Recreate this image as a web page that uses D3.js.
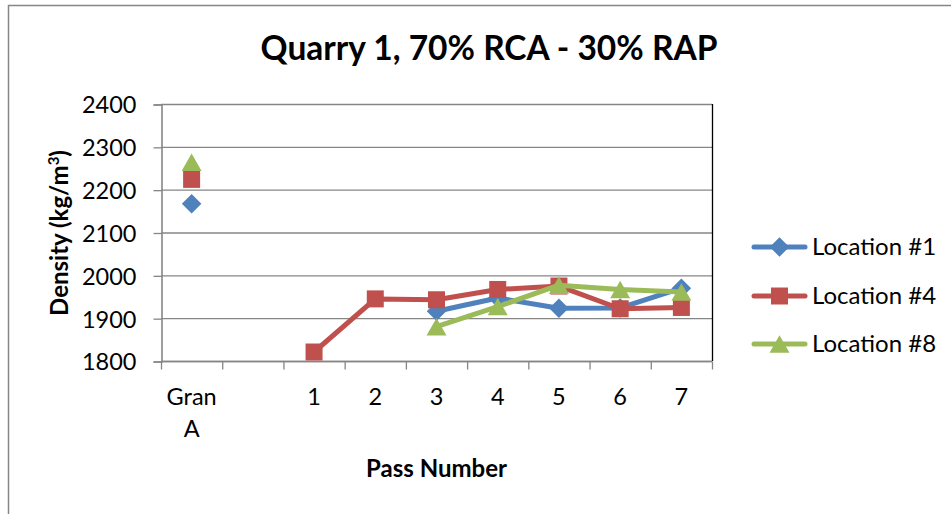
<!DOCTYPE html>
<html><head><meta charset="utf-8">
<script src="https://cdn.jsdelivr.net/npm/d3@7"></script>
<style>body{margin:0;background:#fff;} text{font-family:Lato,"Open Sans",sans-serif;}</style>
</head><body>
<svg id="c" width="951" height="514"></svg>
<script>
const categories = ["Gran A", "", "1", "2", "3", "4", "5", "6", "7"];
const loc1 = [2167, null, null, null, 1916, 1947, 1923, 1924, 1970];
const loc4 = [2224, null, 1821, 1945, 1943, 1967, 1975, 1922, 1925];
const loc8 = [2264, null, null, null, 1880, 1927, 1977, 1967, 1961];
const seriesNames = ["Location #1", "Location #4", "Location #8"];
const yTicks = [1800, 1900, 2000, 2100, 2200, 2300, 2400];

const colors = ["#4F81BD", "#C0504D", "#9BBB59"];
// custom marker shapes (bbox-centred)
const diamond = { draw(ctx, size) { const r = Math.sqrt(size) / 2; ctx.moveTo(0, -r); ctx.lineTo(r, 0); ctx.lineTo(0, r); ctx.lineTo(-r, 0); ctx.closePath(); } };
const square = { draw(ctx, size) { const r = Math.sqrt(size) / 2; ctx.rect(-r, -r, 2 * r, 2 * r); } };
const triangle = { draw(ctx, size) { const w = Math.sqrt(size); const h = w * 0.87; ctx.moveTo(0, -h / 2); ctx.lineTo(w / 2, h / 2); ctx.lineTo(-w / 2, h / 2); ctx.closePath(); } };
const shapes = [diamond, square, triangle];
const sizes = [19.5 * 19.5, 17 * 17, 20 * 20];
const series = [loc1, loc4, loc8];

const svg = d3.select("#c");
svg.append("rect").attr("x", 8.5).attr("y", 5.5).attr("width", 1000).attr("height", 600)
  .attr("fill", "#fff").attr("stroke", "#868686").attr("stroke-width", 1.5);

const L = 161, R = 712, T = 104, B = 361;
const x = d3.scaleBand().domain(categories.map((c, i) => i)).range([L, R]);
const y = d3.scaleLinear().domain([1800, 2400]).range([B, T]);
const cx = i => x(i) + x.bandwidth() / 2;

// gridlines
svg.append("g").selectAll("line").data(yTicks).join("line")
  .attr("x1", L).attr("x2", R).attr("y1", d => y(d) + 0.5).attr("y2", d => y(d) + 0.5)
  .attr("stroke", "#868686").attr("stroke-width", 1.3);
// right border of plot
svg.append("line").attr("x1", R + 0.5).attr("x2", R + 0.5).attr("y1", T).attr("y2", B)
  .attr("stroke", "#000").attr("stroke-width", 1.3);

// y axis
const ya = svg.append("g").attr("transform", `translate(${L + 0.5},0.5)`)
  .call(d3.axisLeft(y).tickValues(yTicks).tickSize(8).tickPadding(17).tickFormat(d3.format("d")));
ya.select(".domain").attr("stroke", "#868686").attr("stroke-width", 1.6);
ya.selectAll(".tick line").attr("stroke", "#868686").attr("stroke-width", 1.3);
ya.selectAll("text").attr("font-size", 23.5).attr("fill", "#000").attr("font-family", "Lato").attr("dy", "0.36em");

// x axis
const xa = svg.append("g").attr("transform", `translate(0,${B + 0.5})`);
xa.append("line").attr("x1", L).attr("x2", R).attr("stroke", "#868686").attr("stroke-width", 1.6);
const bounds = d3.range(categories.length + 1).map(i => L + i * x.step());
xa.selectAll(".tk").data(bounds).join("line").attr("class", "tk")
  .attr("x1", d => d + 0.5).attr("x2", d => d + 0.5).attr("y1", 0).attr("y2", 8)
  .attr("stroke", "#868686").attr("stroke-width", 1.3);
categories.forEach((c, i) => {
  const words = c.split(" ");
  const t = xa.append("text").attr("text-anchor", "middle").attr("font-size", 23.5).attr("fill", "#000")
    .attr("x", cx(i)).attr("y", 404 - B);
  words.forEach((w, j) => t.append("tspan").attr("x", cx(i)).attr("dy", j ? 32 : 0).text(w));
});

// lines and markers
series.forEach((s, k) => {
  const pts = s.map((v, i) => ({ i, v }));
  const line = d3.line().defined(d => d.v != null).x(d => cx(d.i)).y(d => y(d.v));
  svg.append("path").datum(pts).attr("d", line).attr("fill", "none")
    .attr("stroke", colors[k]).attr("stroke-width", 5).attr("stroke-linejoin", "round").attr("stroke-linecap", "round");
  svg.append("g").selectAll("path").data(pts.filter(d => d.v != null)).join("path")
    .attr("transform", d => `translate(${cx(d.i)},${y(d.v)})`)
    .attr("d", d3.symbol().type(shapes[k]).size(sizes[k])).attr("fill", colors[k]);
});

// title
svg.append("text").attr("x", 489).attr("y", 60).attr("text-anchor", "middle")
  .attr("font-size", 33.5).attr("font-weight", "bold").attr("fill", "#000").text("Quarry 1, 70% RCA - 30% RAP");
// axis titles
svg.append("text").attr("x", 436.5).attr("y", 477).attr("text-anchor", "middle")
  .attr("font-size", 24).attr("font-weight", "bold").attr("fill", "#000").text("Pass Number");
const yt = svg.append("text").attr("transform", "translate(68,233) rotate(-90)").attr("text-anchor", "middle")
  .attr("font-size", 24).attr("font-weight", "bold").attr("fill", "#000");
yt.append("tspan").text("Density (kg/m");
yt.append("tspan").attr("font-size", 15).attr("dy", -9).text("3");
yt.append("tspan").attr("dy", 9).text(")");

// legend
const lg = svg.append("g");
seriesNames.forEach((n, k) => {
  const cy = [247, 296, 344][k];
  lg.append("line").attr("x1", 754).attr("x2", 805).attr("y1", cy).attr("y2", cy)
    .attr("stroke", colors[k]).attr("stroke-width", 5).attr("stroke-linecap", "round");
  lg.append("path").attr("transform", `translate(779.5,${cy})`)
    .attr("d", d3.symbol().type(shapes[k]).size(sizes[k])).attr("fill", colors[k]);
  lg.append("text").attr("x", 812).attr("y", cy + 8).attr("font-size", 24).attr("fill", "#000").text(n);
});
</script>
</body></html>
